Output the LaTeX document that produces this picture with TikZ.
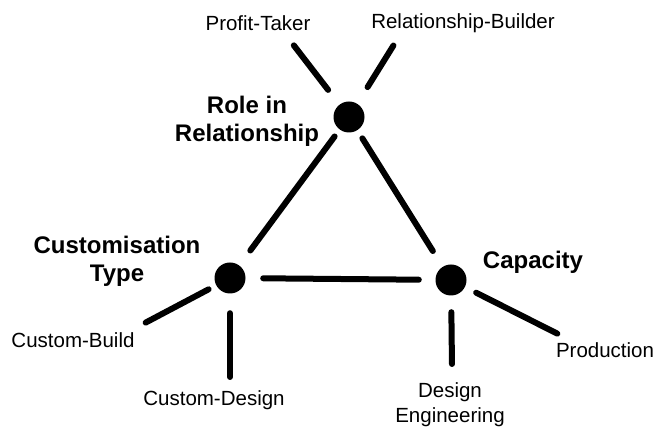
\documentclass[tikz,border=0pt]{standalone}
\usepackage{fontspec}
\setmainfont{Liberation Sans}

\begin{document}
\begin{tikzpicture}[x=1pt,y=-1pt,
  hub/.style={fill=black,circle,inner sep=0pt,minimum size=31pt},
  spoke/.style={line width=6pt,line cap=round},
  facet/.style={font=\fontsize{24}{28}\selectfont\bfseries,align=center,inner sep=0pt},
  option/.style={font=\fontsize{20.5}{25}\selectfont,align=center,inner sep=0pt}]
  \useasboundingbox (0,0) rectangle (657,427);
  % the three dimensions
  \node[hub] (role) at (349,117) {};
  \node[hub] (cust) at (230,278) {};
  \node[hub] (cap) at (451,280) {};
  \node[facet] (roleL) at (247,121) {Role in\\Relationship};
  \node[facet] (custL) at (117,261) {Customisation\\Type};
  \node[facet] (capL) at (533,262) {Capacity};
  % triangle
  \draw[spoke,shorten <=8.5pt,shorten >=18.5pt] (role) -- (cust);
  \draw[spoke,shorten <=9.5pt,shorten >=18.5pt] (role) -- (cap);
  \draw[spoke,shorten <=17.5pt,shorten >=16.5pt] (cust) -- (cap);
  % options of each dimension
  \coordinate (taker) at (292,43);
  \coordinate (builder) at (395,43);
  \coordinate (build) at (143,324);
  \coordinate (design) at (230,380);
  \coordinate (engin) at (452,367);
  \coordinate (prod) at (560,335);
  \foreach \hub/\tip/\gap in {role/taker/18.5,role/builder/19.5,cust/build/8.5,
      cust/design/19.5,cap/engin/16.5,cap/prod/12.5}
    \draw[spoke,shorten <=\gap pt,shorten >=3pt] (\hub) -- (\tip);
  \node[option] (takerL) at (258,23) {Profit-Taker};
  \node[option] (builderL) at (463,23) {Relationship-Builder};
  \node[option] (buildL) at (73,340) {Custom-Build};
  \node[option] (designL) at (214,400) {Custom-Design};
  \node[option] (enginL) at (450,405) {Design\\Engineering};
  \node[option] (prodL) at (605,350) {Production};
\end{tikzpicture}
\end{document}
